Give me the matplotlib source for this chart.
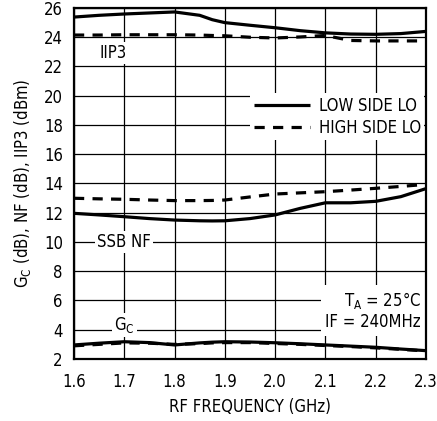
import matplotlib
matplotlib.use("Agg")
import matplotlib.pyplot as plt

# ------------------------------ Data ------------------------------

FREQ = [1.6, 1.65, 1.7, 1.75, 1.8, 1.85, 1.875, 1.9, 1.95, 2.0, 2.05, 2.1, 2.15, 2.2, 2.25, 2.3]

IIP3_LOW  = [25.38, 25.50, 25.59, 25.66, 25.73, 25.50, 25.20, 25.00, 24.82, 24.65, 24.45, 24.30, 24.22, 24.20, 24.25, 24.40]
IIP3_HIGH = [24.15, 24.15, 24.17, 24.17, 24.17, 24.15, 24.12, 24.10, 24.00, 23.95, 24.02, 24.12, 23.78, 23.75, 23.75, 23.75]

NF_LOW  = [11.96, 11.85, 11.73, 11.60, 11.50, 11.45, 11.44, 11.45, 11.60, 11.85, 12.30, 12.68, 12.68, 12.78, 13.10, 13.65]
NF_HIGH = [12.99, 12.95, 12.92, 12.87, 12.83, 12.83, 12.84, 12.87, 13.08, 13.28, 13.36, 13.44, 13.55, 13.67, 13.80, 13.94]

GC_LOW  = [2.96, 3.08, 3.18, 3.12, 2.96, 3.10, 3.15, 3.18, 3.16, 3.11, 3.04, 2.96, 2.88, 2.80, 2.68, 2.57]
GC_HIGH = [2.90, 3.00, 3.10, 3.08, 3.00, 3.05, 3.10, 3.12, 3.12, 3.06, 3.00, 2.92, 2.85, 2.76, 2.66, 2.55]

XTICKS = [1.6, 1.7, 1.8, 1.9, 2.0, 2.1, 2.2, 2.3]
YTICKS = list(range(2, 27, 2))

# ------------------------------ Style ------------------------------

plt.rcParams["font.family"] = ["DejaVu Sans"]
plt.rcParams["font.stretch"] = "condensed"
plt.rcParams["mathtext.fontset"] = "custom"
plt.rcParams["mathtext.rm"] = "DejaVu Sans:stretch=condensed"
FS = 12

fig = plt.figure(figsize=(4.37, 4.21), dpi=100)
ax = fig.add_axes([0.1693, 0.1473, 0.9748 - 0.1693, 0.981 - 0.1473])

solid = dict(color="black", lw=2.3, ls="-", solid_capstyle="butt", zorder=3)
dashed = dict(color="black", lw=2.3, ls=(0, (3.2, 2.6)), zorder=3)

ax.plot(FREQ, IIP3_LOW, label="LOW SIDE LO", **solid)
ax.plot(FREQ, IIP3_HIGH, label="HIGH SIDE LO", **dashed)
ax.plot(FREQ, NF_LOW, **solid)
ax.plot(FREQ, NF_HIGH, **dashed)
ax.plot(FREQ, GC_LOW, **solid)
ax.plot(FREQ, GC_HIGH, **dashed)

ax.set_xlim(1.6, 2.3)
ax.set_ylim(2, 26)
ax.set_xticks(XTICKS)
ax.set_xticklabels([f"{x:.1f}" for x in XTICKS])
ax.set_yticks(YTICKS)
ax.tick_params(length=0, labelsize=FS)
ax.tick_params(axis="x", pad=10)
ax.tick_params(axis="y", pad=8)
ax.grid(True, color="black", lw=0.9, zorder=0)
ax.set_axisbelow(True)
for sp in ax.spines.values():
    sp.set_linewidth(1.6)

ax.set_xlabel("RF FREQUENCY (GHz)", fontsize=FS, labelpad=5)
ax.set_ylabel(r"G$_\mathregular{C}$ (dB), NF (dB), IIP3 (dBm)", fontsize=FS, labelpad=8)

box = dict(facecolor="white", edgecolor="none", pad=1.5)
ax.text(1.678, 22.9, "IIP3", fontsize=FS, ha="center", va="center", bbox=box, zorder=2)
ax.text(1.70, 10.0, "SSB NF", fontsize=FS, ha="center", va="center", bbox=box, zorder=2)
ax.text(1.70, 4.3, r"G$_\mathregular{C}$", fontsize=FS, ha="center", va="center", bbox=box, zorder=2)
ax.text(0.985, 0.137, "T$_\\mathregular{A}$ = 25°C\nIF = 240MHz", transform=ax.transAxes,
        fontsize=FS, ha="right", va="center", linespacing=1.15,
        bbox=dict(facecolor="white", edgecolor="none", pad=3), zorder=2)

leg = ax.legend(loc="center right", bbox_to_anchor=(0.995, 0.69), fontsize=FS,
                frameon=True, fancybox=False, framealpha=1, edgecolor="none",
                handlelength=3.4, handletextpad=0.5, labelspacing=0.25,
                borderpad=0.2, borderaxespad=0)
leg.set_zorder(4)

fig.savefig("out.png", dpi=100)
